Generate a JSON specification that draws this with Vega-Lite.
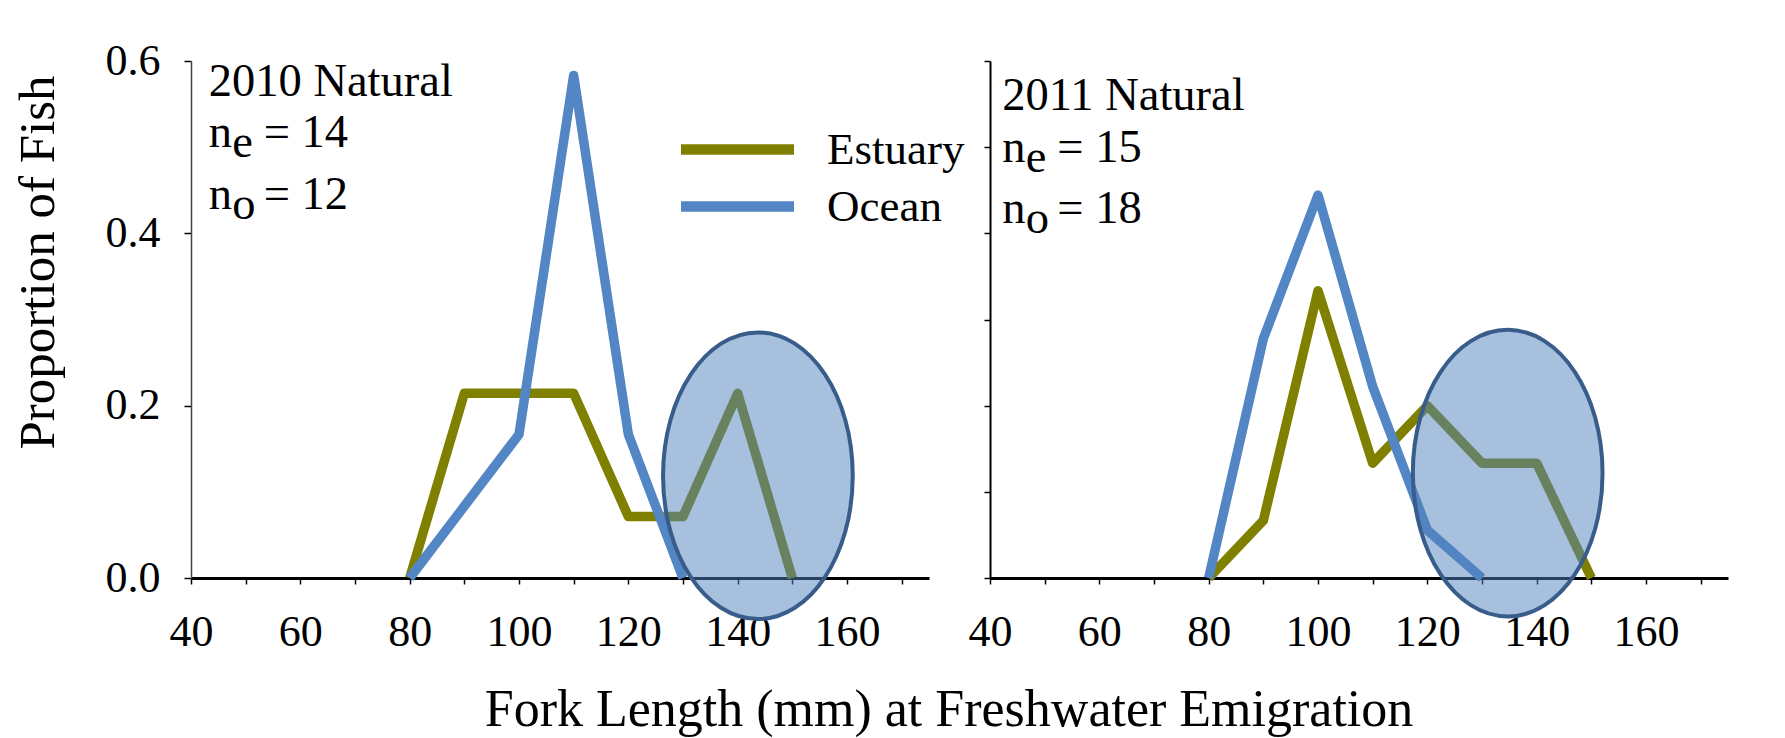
{
  "$schema": "https://vega.github.io/schema/vega-lite/v6.json",
  "background": "white",
  "padding": {"left": 11, "top": 39, "right": 59, "bottom": 5},
  "config": {
    "font": "Liberation Serif",
    "view": {"stroke": null},
    "axis": {
      "grid": false,
      "labelColor": "black",
      "labelFont": "Liberation Serif",
      "tickColor": "black",
      "domainColor": "black",
      "labelFlush": false,
      "labelOverlap": false
    },
    "text": {"font": "Liberation Serif", "color": "black", "align": "left", "baseline": "alphabetic", "fontSize": 46.5}
  },
  "datasets": {
    "fish": [
      {"year": 2010, "habitat": "Estuary", "length": 80, "prop": 0},
      {"year": 2010, "habitat": "Estuary", "length": 90, "prop": 0.2143},
      {"year": 2010, "habitat": "Estuary", "length": 100, "prop": 0.2143},
      {"year": 2010, "habitat": "Estuary", "length": 110, "prop": 0.2143},
      {"year": 2010, "habitat": "Estuary", "length": 120, "prop": 0.0714},
      {"year": 2010, "habitat": "Estuary", "length": 130, "prop": 0.0714},
      {"year": 2010, "habitat": "Estuary", "length": 140, "prop": 0.2143},
      {"year": 2010, "habitat": "Estuary", "length": 150, "prop": 0},
      {"year": 2010, "habitat": "Ocean", "length": 80, "prop": 0},
      {"year": 2010, "habitat": "Ocean", "length": 90, "prop": 0.0833},
      {"year": 2010, "habitat": "Ocean", "length": 100, "prop": 0.1667},
      {"year": 2010, "habitat": "Ocean", "length": 110, "prop": 0.5833},
      {"year": 2010, "habitat": "Ocean", "length": 120, "prop": 0.1667},
      {"year": 2010, "habitat": "Ocean", "length": 130, "prop": 0},
      {"year": 2011, "habitat": "Estuary", "length": 80, "prop": 0},
      {"year": 2011, "habitat": "Estuary", "length": 90, "prop": 0.0667},
      {"year": 2011, "habitat": "Estuary", "length": 100, "prop": 0.3333},
      {"year": 2011, "habitat": "Estuary", "length": 110, "prop": 0.1333},
      {"year": 2011, "habitat": "Estuary", "length": 120, "prop": 0.2},
      {"year": 2011, "habitat": "Estuary", "length": 130, "prop": 0.1333},
      {"year": 2011, "habitat": "Estuary", "length": 140, "prop": 0.1333},
      {"year": 2011, "habitat": "Estuary", "length": 150, "prop": 0},
      {"year": 2011, "habitat": "Ocean", "length": 80, "prop": 0},
      {"year": 2011, "habitat": "Ocean", "length": 90, "prop": 0.2778},
      {"year": 2011, "habitat": "Ocean", "length": 100, "prop": 0.4444},
      {"year": 2011, "habitat": "Ocean", "length": 110, "prop": 0.2222},
      {"year": 2011, "habitat": "Ocean", "length": 120, "prop": 0.0556},
      {"year": 2011, "habitat": "Ocean", "length": 130, "prop": 0}
    ],
    "highlight": [
      {"year": 2010, "length": 143.7, "prop": 0.1187},
      {"year": 2011, "length": 134.7, "prop": 0.1217}
    ],
    "one": [{}]
  },
  "title": {
    "text": "Fork Length (mm) at Freshwater Emigration",
    "orient": "bottom",
    "anchor": "middle",
    "font": "Liberation Serif",
    "fontSize": 52,
    "fontWeight": "normal",
    "color": "black",
    "offset": 31,
    "dx": 79
  },
  "bounds": "flush",
  "spacing": 61,
  "resolve": {"scale": {"color": "independent"}, "legend": {"color": "independent"}},
  "hconcat": [
    {
      "width": 738,
      "height": 517,
      "encoding": {
        "x": {
          "type": "quantitative",
          "scale": {"domain": [40, 175], "nice": false, "zero": false},
          "axis": {
            "values": [40, 50, 60, 70, 80, 90, 100, 110, 120, 130, 140, 150, 160, 170],
            "labelExpr": "datum.value % 20 === 0 ? datum.label : ''",
            "title": null,
            "domainWidth": 3,
            "tickWidth": 1.5,
            "tickSize": 6,
            "labelFontSize": 44,
            "labelPadding": 26
          }
        },
        "y": {
          "type": "quantitative",
          "scale": {"domain": [0, 0.6], "nice": false},
          "axis": {
            "values": [0, 0.2, 0.4, 0.6],
            "format": ".1f",
            "domainColor": "#444444",
            "domainWidth": 1.5,
            "tickWidth": 1.5,
            "tickSize": 7,
            "labelFontSize": 44,
            "labelPadding": 24,
            "title": "Proportion of Fish",
            "titleFont": "Liberation Serif",
            "titleFontSize": 51,
            "titleFontWeight": "normal",
            "titleColor": "black",
            "titleAngle": -90,
            "titleAlign": "center",
            "titleBaseline": "alphabetic",
            "titleX": -138,
            "titleY": 201
          }
        }
      },
      "layer": [
        {
          "data": {"name": "fish"},
          "transform": [{"filter": "datum.year === 2010"}],
          "mark": {"type": "line", "strokeWidth": 9.5, "strokeJoin": "round", "strokeCap": "butt"},
          "encoding": {
            "x": {"field": "length", "type": "quantitative"},
            "y": {"field": "prop", "type": "quantitative"},
            "color": {
              "field": "habitat",
              "type": "nominal",
              "scale": {"domain": ["Estuary", "Ocean"], "range": ["#808000", "#5386C4"]},
              "legend": {
                "orient": "none",
                "legendX": 522,
                "legendY": 64,
                "title": null,
                "padding": 0,
                "symbolType": "M-3,0L3,0",
                "symbolSize": 1419,
                "symbolStrokeWidth": 10.5,
                "labelFont": "Liberation Serif",
                "labelFontSize": 45,
                "labelColor": "black",
                "labelOffset": 65,
                "rowPadding": 9
              }
            }
          }
        },
        {
          "data": {"name": "highlight"},
          "transform": [{"filter": "datum.year === 2010"}],
          "mark": {
            "type": "point",
            "shape": "M0.662,0C0.662,0.5523,0.3656,1,0,1C-0.3656,1,-0.662,0.5523,-0.662,0C-0.662,-0.5523,-0.3656,-1,0,-1C0.3656,-1,0.662,-0.5523,0.662,0Z",
            "size": 82140,
            "filled": true,
            "fill": "#4F81BD",
            "fillOpacity": 0.5,
            "stroke": "#385D8A",
            "strokeWidth": 4,
            "opacity": 1
          },
          "encoding": {
            "x": {"field": "length", "type": "quantitative"},
            "y": {"field": "prop", "type": "quantitative"}
          }
        },
        {
          "data": {"name": "one"},
          "mark": {"type": "text", "text": "2010 Natural"},
          "encoding": {"x": {"datum": 43.25}, "y": {"datum": 0.559}}
        },
        {
          "data": {"name": "one"},
          "mark": {"type": "text", "text": "n"},
          "encoding": {"x": {"datum": 43.25}, "y": {"datum": 0.5}}
        },
        {
          "data": {"name": "one"},
          "mark": {"type": "text", "text": "e", "dx": 23.5, "dy": 10},
          "encoding": {"x": {"datum": 43.25}, "y": {"datum": 0.5}}
        },
        {
          "data": {"name": "one"},
          "mark": {"type": "text", "text": "= 14", "dx": 55},
          "encoding": {"x": {"datum": 43.25}, "y": {"datum": 0.5}}
        },
        {
          "data": {"name": "one"},
          "mark": {"type": "text", "text": "n"},
          "encoding": {"x": {"datum": 43.25}, "y": {"datum": 0.4287}}
        },
        {
          "data": {"name": "one"},
          "mark": {"type": "text", "text": "o", "dx": 23.5, "dy": 10},
          "encoding": {"x": {"datum": 43.25}, "y": {"datum": 0.4287}}
        },
        {
          "data": {"name": "one"},
          "mark": {"type": "text", "text": "= 12", "dx": 55},
          "encoding": {"x": {"datum": 43.25}, "y": {"datum": 0.4287}}
        }
      ]
    },
    {
      "width": 738,
      "height": 517,
      "encoding": {
        "x": {
          "type": "quantitative",
          "scale": {"domain": [40, 175], "nice": false, "zero": false},
          "axis": {
            "values": [40, 50, 60, 70, 80, 90, 100, 110, 120, 130, 140, 150, 160, 170],
            "labelExpr": "datum.value % 20 === 0 ? datum.label : ''",
            "title": null,
            "domainWidth": 3,
            "tickWidth": 1.5,
            "tickSize": 6,
            "labelFontSize": 44,
            "labelPadding": 26
          }
        },
        "y": {
          "type": "quantitative",
          "scale": {"domain": [0, 0.6], "nice": false},
          "axis": {
            "values": [0, 0.1, 0.2, 0.3, 0.4, 0.5, 0.6],
            "labels": false,
            "title": null,
            "domainWidth": 2,
            "tickWidth": 1.5,
            "tickSize": 6
          }
        }
      },
      "layer": [
        {
          "data": {"name": "fish"},
          "transform": [{"filter": "datum.year === 2011"}],
          "mark": {"type": "line", "strokeWidth": 9.5, "strokeJoin": "round", "strokeCap": "butt"},
          "encoding": {
            "x": {"field": "length", "type": "quantitative"},
            "y": {"field": "prop", "type": "quantitative"},
            "color": {
              "field": "habitat",
              "type": "nominal",
              "scale": {"domain": ["Estuary", "Ocean"], "range": ["#808000", "#5386C4"]},
              "legend": null
            }
          }
        },
        {
          "data": {"name": "highlight"},
          "transform": [{"filter": "datum.year === 2011"}],
          "mark": {
            "type": "point",
            "shape": "M0.662,0C0.662,0.5523,0.3656,1,0,1C-0.3656,1,-0.662,0.5523,-0.662,0C-0.662,-0.5523,-0.3656,-1,0,-1C0.3656,-1,0.662,-0.5523,0.662,0Z",
            "size": 82140,
            "filled": true,
            "fill": "#4F81BD",
            "fillOpacity": 0.5,
            "stroke": "#385D8A",
            "strokeWidth": 4,
            "opacity": 1
          },
          "encoding": {
            "x": {"field": "length", "type": "quantitative"},
            "y": {"field": "prop", "type": "quantitative"}
          }
        },
        {
          "data": {"name": "one"},
          "mark": {"type": "text", "text": "2011 Natural"},
          "encoding": {"x": {"datum": 42.25}, "y": {"datum": 0.5427}}
        },
        {
          "data": {"name": "one"},
          "mark": {"type": "text", "text": "n"},
          "encoding": {"x": {"datum": 42.25}, "y": {"datum": 0.4831}}
        },
        {
          "data": {"name": "one"},
          "mark": {"type": "text", "text": "e", "dx": 23.5, "dy": 10},
          "encoding": {"x": {"datum": 42.25}, "y": {"datum": 0.4831}}
        },
        {
          "data": {"name": "one"},
          "mark": {"type": "text", "text": "= 15", "dx": 55},
          "encoding": {"x": {"datum": 42.25}, "y": {"datum": 0.4831}}
        },
        {
          "data": {"name": "one"},
          "mark": {"type": "text", "text": "n"},
          "encoding": {"x": {"datum": 42.25}, "y": {"datum": 0.4122}}
        },
        {
          "data": {"name": "one"},
          "mark": {"type": "text", "text": "o", "dx": 23.5, "dy": 10},
          "encoding": {"x": {"datum": 42.25}, "y": {"datum": 0.4122}}
        },
        {
          "data": {"name": "one"},
          "mark": {"type": "text", "text": "= 18", "dx": 55},
          "encoding": {"x": {"datum": 42.25}, "y": {"datum": 0.4122}}
        }
      ]
    }
  ]
}
